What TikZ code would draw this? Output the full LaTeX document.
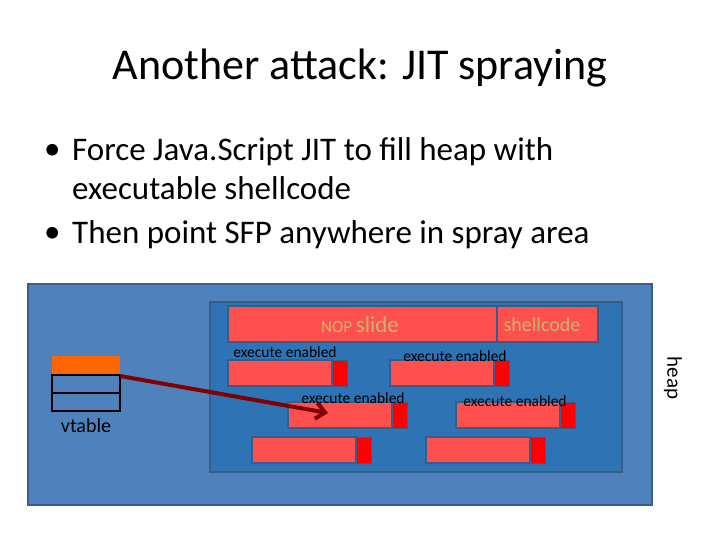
\documentclass[tikz,border=0pt]{standalone}
\usepackage{fontspec}
\setmainfont{Carlito}
\usetikzlibrary{arrows.meta}
\definecolor{outerb}{HTML}{4F81BD}
\definecolor{outerd}{HTML}{385D8A}
\definecolor{innerb}{HTML}{2E74B5}
\definecolor{redb}{HTML}{FF5050}
\definecolor{capr}{HTML}{FF0000}
\definecolor{nopt}{HTML}{C9B46A}
\definecolor{arr}{HTML}{7F0000}
\begin{document}
\begin{tikzpicture}[x=1pt,y=-1pt,
  rb/.style={fill=redb,draw=outerd,line width=1.5pt},
  redcap/.style={fill=capr,draw=outerd,line width=1pt},
  lbl/.style={font=\fontsize{15.5}{15.5}\selectfont,inner sep=0pt},
  bul/.style={anchor=west,inner sep=0pt,font=\fontsize{33}{33}\selectfont}]
\useasboundingbox (0,0) rectangle (720,540);
\node (title) at (360,68) {\fontsize{44}{44}\selectfont Another attack: JIT spraying};
\node[bul] (d1) at (44,152) {\textbullet};
\node[bul] (b1) at (72,152) {Force Java.Script JIT to fill heap with};
\node[bul] (b1b) at (72,188) {executable shellcode};
\node[bul] (d2) at (44,235) {\textbullet};
\node[bul] (b2) at (72,235) {Then point SFP anywhere in spray area};
\draw[fill=outerb,draw=outerd,line width=2pt] (28,284) rectangle (652,505);
\draw[fill=innerb,draw=outerd,line width=2pt] (210,302) rectangle (622,472);
\draw[rb] (228,306) rectangle (497,342);
\draw[rb] (497,306) rectangle (598,342);
\node[text=nopt] (nop) at (360,325) {\fontsize{17}{17}\selectfont NOP \fontsize{23}{23}\selectfont slide};
\node[text=nopt] (sc) at (542,325) {\fontsize{20}{20}\selectfont shellcode};
\foreach \x/\y in {228/360,390/360,288/402,456/402,252/437,426/437}{
  \draw[rb] (\x,\y) rectangle ++(104,26);
  \draw[redcap] (\x+104,\y) rectangle ++(15,26);
}
\node[lbl] (e1) at (285,352) {execute enabled};
\node[lbl] (e2) at (455,356) {execute enabled};
\node[lbl] (e3) at (353,398) {execute enabled};
\node[lbl] (e4) at (515,401) {execute enabled};
\fill[fill={rgb,255:red,255;green,102;blue,0}] (52,356) rectangle (120,375);
\coordinate (vt) at (120,376);
\draw[line width=2pt] (52,375) rectangle (120,393) (52,393) rectangle (120,411);
\node (vlab) at (86,426) {\fontsize{20}{20}\selectfont vtable};
\coordinate (tgt) at (328,413);
\draw[arr,line width=4pt,-{Straight Barb[length=9pt,width=16pt]}] (vt) -- (tgt);
\node[rotate=-90] (heap) at (673,378) {\fontsize{21}{21}\selectfont heap};
\end{tikzpicture}
\end{document}
